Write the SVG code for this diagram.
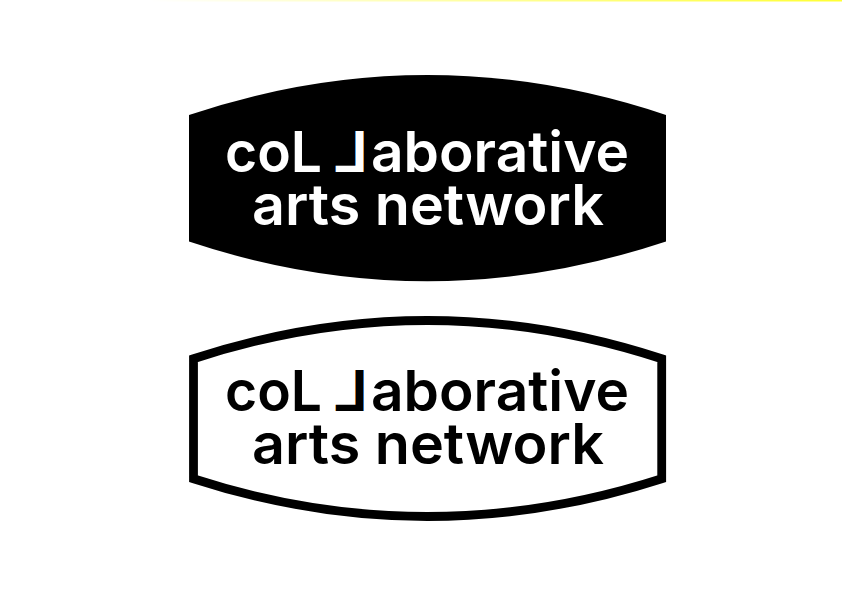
<svg xmlns="http://www.w3.org/2000/svg" width="842" height="596" viewBox="0 0 842 596">
<defs>
<linearGradient id="fade" x1="150" x2="842" y1="0" y2="0" gradientUnits="userSpaceOnUse">
<stop offset="0" stop-color="#ffff33" stop-opacity="0"/>
<stop offset="1" stop-color="#ffff33"/>
</linearGradient>
</defs>
<style>
.t{font-family:"Inter","Liberation Sans",sans-serif;font-weight:600;font-size:57px}
.w{fill:#fff}.k{fill:#000}
</style>
<rect width="842" height="596" fill="#fff"/>
<rect x="150" y="0" width="692" height="1.5" fill="url(#fade)"/>
<g id="logo-solid">
<path d="M189 115Q427 35 666 115V241.500Q427 321 189 241.500Z" fill="#000"/>
<text class="t w" x="225" y="171.500" textLength="97" lengthAdjust="spacingAndGlyphs">coL</text>
<text class="t w" transform="translate(368 171.500) scale(-1.08 1)" x="0" y="0">L</text>
<text class="t w" x="371" y="171.500" textLength="258" lengthAdjust="spacingAndGlyphs">aborative</text>
<text class="t w" x="252" y="224.500" textLength="352" lengthAdjust="spacingAndGlyphs">arts network</text>
</g>
<g id="logo-outline">
<path d="M193.500 358.800Q427 282.200 661.700 358.800V478.700Q427 554.300 193.500 478.700Z" fill="#fff" stroke="#000" stroke-width="8.800"/>
<text class="t k" x="225" y="410.500" textLength="97" lengthAdjust="spacingAndGlyphs">coL</text>
<text class="t k" transform="translate(368 410.500) scale(-1.08 1)" x="0" y="0">L</text>
<text class="t k" x="371" y="410.500" textLength="258" lengthAdjust="spacingAndGlyphs">aborative</text>
<text class="t k" x="252" y="463.500" textLength="352" lengthAdjust="spacingAndGlyphs">arts network</text>
</g>
</svg>
